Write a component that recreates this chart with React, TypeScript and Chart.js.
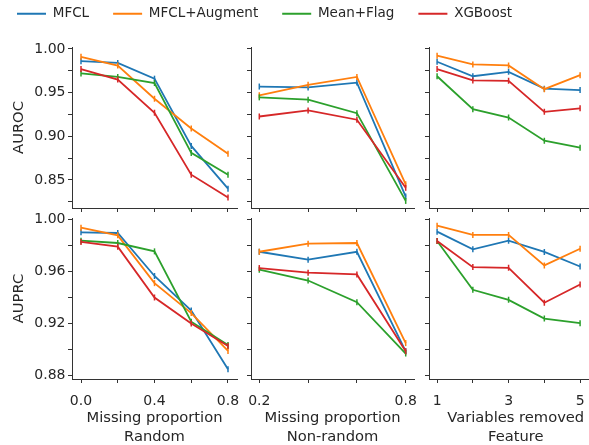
import React, { useEffect, useRef } from 'react';
import { Chart, registerables } from 'chart.js';
Chart.register(...registerables);

// ---------- data ----------
const SERIES_NAMES = ['MFCL', 'MFCL+Augment', 'Mean+Flag', 'XGBoost'];
const SERIES_COLORS = ['#1f77b4', '#ff7f0e', '#2ca02c', '#d62728'];

const RANDOM_X = [0.0, 0.2, 0.4, 0.6, 0.8];
const NONRANDOM_X = [0.2, 0.4, 0.6, 0.8];
const FEATURE_X = [1, 2, 3, 4, 5];

const RANDOM_X_LABELS = [0.0, 0.4, 0.8];
const NONRANDOM_X_LABELS = [0.2, 0.8];
const FEATURE_X_LABELS = [1, 3, 5];

const AUROC_TICKS = [0.825, 0.85, 0.875, 0.9, 0.925, 0.95, 0.975, 1.0];
const AUROC_LABELS = [0.85, 0.9, 0.95, 1.0];
const AUPRC_TICKS = [0.88, 0.9, 0.92, 0.94, 0.96, 0.98, 1.0];
const AUPRC_LABELS = [0.88, 0.92, 0.96, 1.0];

// AUROC
const AUROC_RANDOM_MFCL = [0.986, 0.984, 0.966, 0.889, 0.84];
const AUROC_RANDOM_AUG = [0.991, 0.981, 0.943, 0.909, 0.88];
const AUROC_RANDOM_FLAG = [0.972, 0.968, 0.961, 0.881, 0.856];
const AUROC_RANDOM_XGB = [0.977, 0.965, 0.927, 0.856, 0.83];

const AUROC_NONRANDOM_MFCL = [0.957, 0.956, 0.9615, 0.831];
const AUROC_NONRANDOM_AUG = [0.947, 0.959, 0.968, 0.845];
const AUROC_NONRANDOM_FLAG = [0.9446, 0.942, 0.9265, 0.826];
const AUROC_NONRANDOM_XGB = [0.9227, 0.9296, 0.919, 0.841];

const AUROC_FEATURE_MFCL = [0.9854, 0.9688, 0.9738, 0.9546, 0.953];
const AUROC_FEATURE_AUG = [0.9923, 0.9823, 0.9812, 0.954, 0.97];
const AUROC_FEATURE_FLAG = [0.9688, 0.931, 0.9215, 0.895, 0.887];
const AUROC_FEATURE_XGB = [0.977, 0.964, 0.9635, 0.928, 0.932];

// AUPRC
const AUPRC_RANDOM_MFCL = [0.99, 0.9895, 0.9565, 0.93, 0.885];
const AUPRC_RANDOM_AUG = [0.9936, 0.9877, 0.951, 0.928, 0.899];
const AUPRC_RANDOM_FLAG = [0.9836, 0.9818, 0.9754, 0.9214, 0.9035];
const AUPRC_RANDOM_XGB = [0.9826, 0.979, 0.94, 0.92, 0.9028];

const AUPRC_NONRANDOM_MFCL = [0.9751, 0.969, 0.9751, 0.8987];
const AUPRC_NONRANDOM_AUG = [0.9751, 0.9813, 0.9818, 0.905];
const AUPRC_NONRANDOM_FLAG = [0.9613, 0.953, 0.9364, 0.897];
const AUPRC_NONRANDOM_XGB = [0.9626, 0.959, 0.9577, 0.8987];

const AUPRC_FEATURE_MFCL = [0.9905, 0.977, 0.9836, 0.975, 0.9638];
const AUPRC_FEATURE_AUG = [0.9951, 0.988, 0.988, 0.9646, 0.9774];
const AUPRC_FEATURE_FLAG = [0.9833, 0.9459, 0.9382, 0.9238, 0.9203];
const AUPRC_FEATURE_XGB = [0.9833, 0.9633, 0.9628, 0.936, 0.95];

// ---------- styling / layout ----------
const FONT = "'DejaVu Sans', sans-serif";
const TEXT_COLOR = '#262626';
const AXIS_COLOR = '#333333';
const TICK_FONT_SIZE = 14;
const TITLE_FONT_SIZE = 14.7;
const LEGEND_FONT_SIZE = 13.5;

Chart.defaults.font.family = FONT;
Chart.defaults.font.size = 14;
Chart.defaults.color = TEXT_COLOR;

type PanelCfg = {
  left: number; top: number; width: number; height: number;
  padTop: number; padRight: number; yWidth: number; xHeight: number;
  xMin: number; xMax: number; yMin: number; yMax: number;
  xs: number[]; series: number[][];
  xTicks: number[]; xLabels: number[]; xFmt: (v: number) => string;
  yTicks: number[]; yLabels: number[];
  showYLabels: boolean; showXLabels: boolean;
  yTitle?: string; xTitle?: string[];
};

const COLS = [
  { left: 0, width: 252, padRight: 15, yWidth: 72, xMin: -0.04898, xMax: 0.84898 },
  { left: 237, width: 193, padRight: 16, yWidth: 14, xMin: 0.16598, xMax: 0.83402 },
  { left: 414, width: 193, padRight: 0, yWidth: 15, xMin: 0.7737, xMax: 5.627 },
];
const ROWS = [
  { top: 32, height: 182, padTop: 15, xHeight: 6, yMin: 0.81787, yMax: 1.00229 },
  { top: 200, height: 245, padTop: 18, xHeight: 66, yMin: 0.87744, yMax: 1.001 },
];

const fmt1 = (v: number) => v.toFixed(1);
const fmtInt = (v: number) => String(Math.round(v));

function makePanel(r: number, c: number, xs: number[], series: number[][], xLabels: number[], xFmt: (v: number) => string, xTitle: string[]): PanelCfg {
  const col = COLS[c];
  const row = ROWS[r];
  return {
    left: col.left, width: col.width, padRight: col.padRight, yWidth: col.yWidth,
    xMin: col.xMin, xMax: col.xMax,
    top: row.top, height: row.height, padTop: row.padTop, xHeight: row.xHeight,
    yMin: row.yMin, yMax: row.yMax,
    xs, series, xTicks: xs, xLabels, xFmt,
    yTicks: r === 0 ? AUROC_TICKS : AUPRC_TICKS,
    yLabels: r === 0 ? AUROC_LABELS : AUPRC_LABELS,
    showYLabels: c === 0,
    showXLabels: r === 1,
    yTitle: c === 0 ? (r === 0 ? 'AUROC' : 'AUPRC') : undefined,
    xTitle: r === 1 ? xTitle : undefined,
  };
}

const PANELS: PanelCfg[] = [
  makePanel(0, 0, RANDOM_X, [AUROC_RANDOM_MFCL, AUROC_RANDOM_AUG, AUROC_RANDOM_FLAG, AUROC_RANDOM_XGB], RANDOM_X_LABELS, fmt1, ['Missing proportion', 'Random']),
  makePanel(0, 1, NONRANDOM_X, [AUROC_NONRANDOM_MFCL, AUROC_NONRANDOM_AUG, AUROC_NONRANDOM_FLAG, AUROC_NONRANDOM_XGB], NONRANDOM_X_LABELS, fmt1, ['Missing proportion', 'Non-random']),
  makePanel(0, 2, FEATURE_X, [AUROC_FEATURE_MFCL, AUROC_FEATURE_AUG, AUROC_FEATURE_FLAG, AUROC_FEATURE_XGB], FEATURE_X_LABELS, fmtInt, ['Variables removed', 'Feature']),
  makePanel(1, 0, RANDOM_X, [AUPRC_RANDOM_MFCL, AUPRC_RANDOM_AUG, AUPRC_RANDOM_FLAG, AUPRC_RANDOM_XGB], RANDOM_X_LABELS, fmt1, ['Missing proportion', 'Random']),
  makePanel(1, 1, NONRANDOM_X, [AUPRC_NONRANDOM_MFCL, AUPRC_NONRANDOM_AUG, AUPRC_NONRANDOM_FLAG, AUPRC_NONRANDOM_XGB], NONRANDOM_X_LABELS, fmt1, ['Missing proportion', 'Non-random']),
  makePanel(1, 2, FEATURE_X, [AUPRC_FEATURE_MFCL, AUPRC_FEATURE_AUG, AUPRC_FEATURE_FLAG, AUPRC_FEATURE_XGB], FEATURE_X_LABELS, fmtInt, ['Variables removed', 'Feature']),
];

const isLabeled = (list: number[], v: number) => list.some((l) => Math.abs(l - v) < 1e-9);

function zeroPad(s: any) {
  s.paddingTop = 0; s.paddingBottom = 0; s.paddingLeft = 0; s.paddingRight = 0;
}

function Panel({ cfg }: { cfg: PanelCfg }) {
  const ref = useRef<HTMLCanvasElement | null>(null);
  useEffect(() => {
    if (!ref.current) return;
    const chart = new Chart(ref.current, {
      type: 'line',
      data: {
        datasets: cfg.series.map((ys, i) => ({
          label: SERIES_NAMES[i],
          data: cfg.xs.map((x, j) => ({ x, y: ys[j] })),
          borderColor: SERIES_COLORS[i],
          backgroundColor: SERIES_COLORS[i],
          borderWidth: 1.8,
          pointStyle: 'line',
          pointRotation: 90,
          pointRadius: 3,
          pointBorderWidth: 1.5,
          pointHoverRadius: 3,
          tension: 0,
          order: cfg.series.length - 1 - i,
        })),
      },
      options: {
        animation: false,
        responsive: false,
        events: [],
        layout: { padding: { left: 0, right: cfg.padRight, top: cfg.padTop, bottom: 0 } },
        plugins: { legend: { display: false }, tooltip: { enabled: false } },
        scales: {
          x: {
            type: 'linear',
            min: cfg.xMin,
            max: cfg.xMax,
            afterBuildTicks: (s: any) => { s.ticks = cfg.xTicks.map((v) => ({ value: v })); },
            afterFit: (s: any) => { s.height = cfg.xHeight; zeroPad(s); },
            grid: { display: true, drawOnChartArea: false, drawTicks: true, tickLength: 4, color: AXIS_COLOR, lineWidth: 1 },
            border: { display: true, color: AXIS_COLOR, width: 1 },
            ticks: {
              display: cfg.showXLabels,
              autoSkip: false,
              maxRotation: 0,
              minRotation: 0,
              padding: 10,
              color: TEXT_COLOR,
              font: { size: TICK_FONT_SIZE, family: FONT },
              callback: (v: any) => (isLabeled(cfg.xLabels, Number(v)) ? cfg.xFmt(Number(v)) : ''),
            },
            title: cfg.xTitle
              ? { display: true, text: cfg.xTitle, color: TEXT_COLOR, font: { size: TITLE_FONT_SIZE, family: FONT, lineHeight: 19 / TITLE_FONT_SIZE }, padding: { top: 0, bottom: -2 } }
              : { display: false },
          },
          y: {
            type: 'linear',
            min: cfg.yMin,
            max: cfg.yMax,
            afterBuildTicks: (s: any) => { s.ticks = cfg.yTicks.map((v) => ({ value: v })); },
            afterFit: (s: any) => { s.width = cfg.yWidth; zeroPad(s); },
            grid: { display: true, drawOnChartArea: false, drawTicks: true, tickLength: 4, color: AXIS_COLOR, lineWidth: 1 },
            border: { display: true, color: AXIS_COLOR, width: 1 },
            ticks: {
              display: cfg.showYLabels,
              autoSkip: false,
              padding: 2.5,
              color: TEXT_COLOR,
              font: { size: TICK_FONT_SIZE, family: FONT },
              callback: (v: any) => (isLabeled(cfg.yLabels, Number(v)) ? Number(v).toFixed(2) : ''),
            },
            title: cfg.yTitle
              ? { display: true, text: cfg.yTitle, color: TEXT_COLOR, font: { size: TITLE_FONT_SIZE, family: FONT }, padding: { top: 10.2, bottom: 0 } }
              : { display: false },
          },
        },
      } as any,
    });
    return () => chart.destroy();
  }, [cfg]);
  return (
    <canvas
      ref={ref}
      width={cfg.width}
      height={cfg.height}
      style={{ position: 'absolute', left: cfg.left, top: cfg.top, width: cfg.width, height: cfg.height }}
    />
  );
}

function Legend() {
  const ref = useRef<HTMLCanvasElement | null>(null);
  useEffect(() => {
    if (!ref.current) return;
    const chart = new Chart(ref.current, {
      type: 'line',
      data: {
        datasets: SERIES_NAMES.map((n, i) => ({ label: n, data: [], borderColor: SERIES_COLORS[i], backgroundColor: SERIES_COLORS[i] })),
      },
      options: {
        animation: false,
        responsive: false,
        events: [],
        layout: { padding: 0 },
        scales: { x: { display: false }, y: { display: false } },
        plugins: {
          tooltip: { enabled: false },
          legend: {
            display: true,
            position: 'top',
            align: 'start',
            labels: {
              boxWidth: 29,
              boxHeight: 2,
              padding: 24,
              color: TEXT_COLOR,
              font: { size: LEGEND_FONT_SIZE, family: FONT },
              generateLabels: (ch: any) =>
                ch.data.datasets.map((d: any, i: number) => ({
                  text: d.label,
                  fillStyle: d.borderColor,
                  strokeStyle: d.borderColor,
                  lineWidth: 0,
                  hidden: false,
                  datasetIndex: i,
                  fontColor: TEXT_COLOR,
                })),
            },
          },
        },
      } as any,
    });
    return () => chart.destroy();
  }, []);
  return (
    <canvas ref={ref} width={598} height={120} style={{ position: 'absolute', left: -7, top: -17, width: 598, height: 120 }} />
  );
}

export default function App() {
  return (
    <div style={{ position: 'fixed', left: 0, top: 0, width: 589, height: 445, overflow: 'hidden', background: '#ffffff' }}>
      <Legend />
      {PANELS.map((p, i) => (
        <Panel key={i} cfg={p} />
      ))}
    </div>
  );
}
